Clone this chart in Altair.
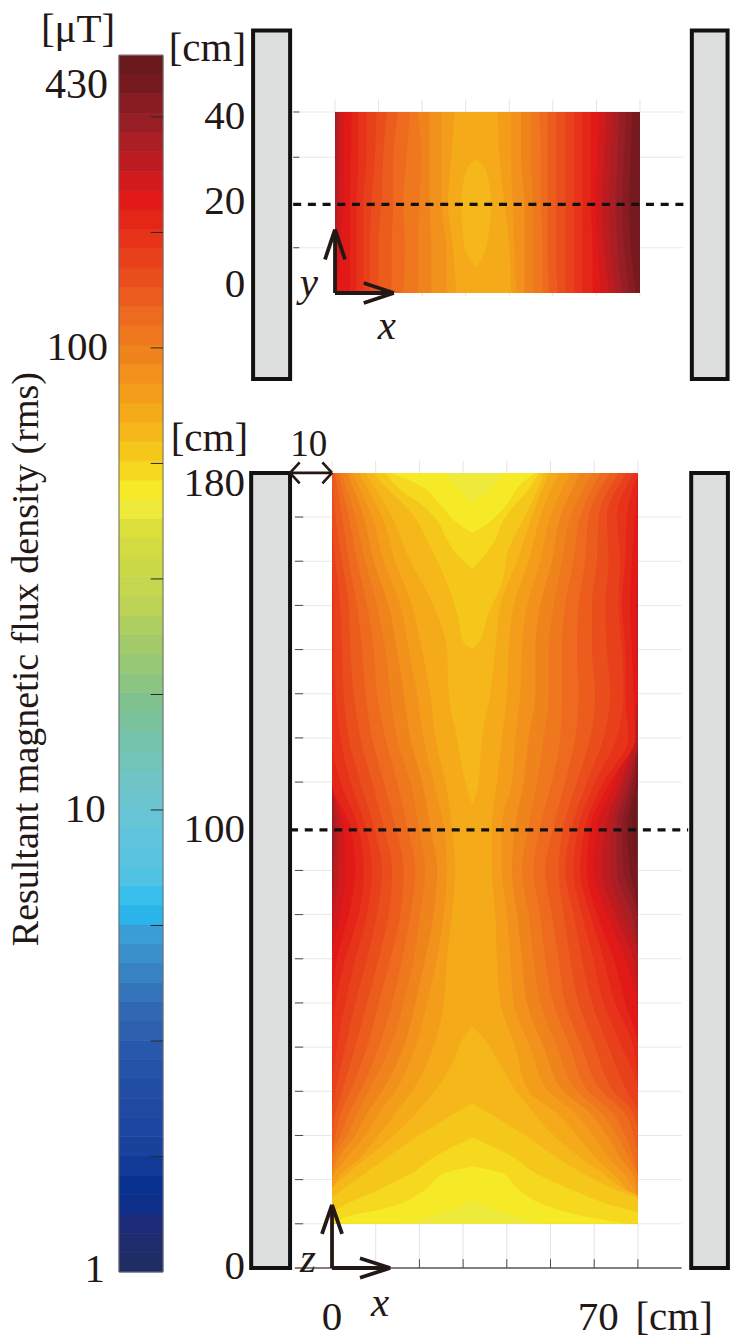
import altair as alt
import pandas as pd

FONT = "Liberation Serif"
INK = "#231815"

# colour bar: band edges in uT and one colour per band, bottom to top
band_edges = [1, 1.101, 1.212, 1.335, 1.470, 1.618, 1.782, 1.961, 2.160, 2.378, 2.618, 2.882, 3.174,
              3.494, 3.847, 4.236, 4.665, 5.136, 5.655, 6.226, 6.855, 7.547, 8.309, 9.149, 10.07,
              11.09, 12.21, 13.45, 14.80, 16.30, 17.95, 19.76, 21.76, 23.96, 26.38, 29.04, 31.98,
              35.21, 38.77, 42.68, 47.00, 51.74, 56.97, 62.72, 69.06, 76.03, 83.71, 92.18, 101.5,
              111.7, 123.0, 135.5, 149.1, 164.2, 180.8, 199.1, 219.2, 241.3, 265.7, 292.6, 322.1,
              354.7, 390.5, 430]
band_colors = ["#202c66", "#1f2c6e", "#1c2c7a", "#0e308a", "#083190", "#103a96", "#18429c", "#1c47a0",
               "#2049a2", "#224ea5", "#2553a8", "#2858ab", "#2c5fae", "#3068b3", "#3373b9", "#3682c2",
               "#3990cb", "#3a9dd6", "#2bb4ea", "#38bfec", "#50c2e4", "#5ac3e0", "#60c4de", "#66c4d6",
               "#6bc4ce", "#6fc4c6", "#72c4b8", "#74c3ab", "#7ac29d", "#80c28f", "#8cc582", "#97c876",
               "#a2ca6b", "#aece5f", "#bcd356", "#c4d74e", "#cbd947", "#d2dc42", "#dadf3c", "#eeea3c",
               "#f5ea25", "#f6d81f", "#f5c71b", "#f5b71a", "#f5ab19", "#f49d1a", "#f2911b", "#f0841c",
               "#ef771d", "#ed6a1e", "#eb5c1d", "#e94e1c", "#e8401b", "#e6331a", "#e42619", "#e11a18",
               "#d01a1c", "#bc1c20", "#aa1e24", "#981e25", "#881c22", "#771a1f", "#6a191d"]
bar_ticks = [1.778, 3.162, 5.623, 10, 17.78, 31.62, 56.23, 100, 177.8, 316.2]
FIRST_BAND = 39  # contour level 0 is this colour band

# contour edges, in 1/918 of the 70 cm span
E = 918
z_rows = [180, 170, 160, 150, 140, 130, 120, 110, 100, 90, 80, 70, 60, 50, 40, 35, 30, 25, 20, 15, 10]
front_levels = {
    5: ([80, 150, 190, 240, 270, 295, 310, 340, 360, 370, 360, 345, 335, 305, 240, 190, 140, 85, 15, 0, 0],
        [680, 625, 590, 545, 530, 525, 510, 495, 480, 480, 490, 495, 505, 550, 590, 675, 735, 790, 860, 905, E]),
    6: ([60, 120, 155, 205, 230, 255, 275, 305, 335, 345, 335, 315, 285, 250, 190, 140, 100, 45, 0, 0, 0],
        [715, 655, 625, 585, 570, 565, 550, 540, 510, 510, 525, 535, 545, 595, 650, 730, 785, 830, 890, E, E]),
    7: ([45, 95, 125, 170, 195, 215, 235, 270, 295, 315, 305, 280, 250, 215, 150, 105, 70, 20, 0, 0, 0],
        [745, 685, 660, 625, 610, 610, 590, 575, 550, 540, 555, 570, 585, 635, 695, 775, 825, 865, 910, E, E]),
    8: ([30, 70, 100, 135, 160, 175, 195, 235, 260, 280, 265, 245, 215, 175, 110, 75, 45, 8, 0, 0, 0],
        [780, 715, 690, 665, 650, 650, 635, 615, 590, 570, 590, 605, 625, 675, 735, 810, 855, 890, E, E, E]),
    9: ([18, 50, 75, 105, 125, 135, 160, 195, 225, 250, 235, 210, 180, 140, 85, 50, 25, 0, 0, 0, 0],
        [805, 745, 725, 700, 690, 690, 685, 660, 625, 605, 625, 640, 665, 715, 770, 845, 880, 905, E, E, E]),
    10: ([8, 30, 50, 75, 90, 100, 120, 155, 190, 215, 205, 175, 140, 105, 55, 25, 10, 0, 0, 0, 0],
         [835, 770, 760, 740, 735, 740, 730, 700, 665, 640, 660, 680, 700, 750, 810, 880, 905, E, E, E, E]),
    11: ([0, 10, 30, 50, 55, 65, 85, 120, 155, 180, 170, 140, 105, 70, 30, 10, 0, 0, 0, 0, 0],
         [860, 800, 795, 780, 780, 790, 775, 735, 695, 680, 695, 715, 740, 790, 845, 905, E, E, E, E, E]),
    12: ([0, 0, 10, 25, 30, 35, 50, 85, 125, 150, 135, 105, 70, 40, 10, 0, 0, 0, 0, 0, 0],
         [885, 825, 830, 820, 825, 835, 815, 765, 720, 700, 725, 750, 780, 830, 885, E, E, E, E, E, E]),
    13: ([0, 0, 0, 5, 5, 10, 25, 55, 100, 120, 105, 70, 40, 15, 0, 0, 0, 0, 0, 0, 0],
         [905, 855, 865, 860, 870, 875, 855, 790, 740, 725, 750, 785, 815, 870, E, E, E, E, E, E, E]),
    14: ([0, 0, 0, 0, 0, 0, 0, 25, 78, 95, 80, 40, 10, 0, 0, 0, 0, 0, 0, 0, 0],
         [E, 885, 880, 870, 880, 880, 890, 815, 760, 745, 775, 815, 850, 905, E, E, E, E, E, E, E]),
    15: ([0, 0, 0, 0, 0, 0, 0, 0, 55, 70, 50, 15, 0, 0, 0, 0, 0, 0, 0, 0, 0],
         [E, 910, 900, 895, 900, 905, 910, 835, 775, 765, 795, 845, 880, E, E, E, E, E, E, E, E]),
    16: ([0, 0, 0, 0, 0, 0, 0, 0, 35, 40, 25, 0, 0, 0, 0, 0, 0, 0, 0, 0, 0],
         [E, E, E, 912, 912, E, 885, 850, 795, 785, 825, 880, 915, E, E, E, E, E, E, E, E]),
    17: ([0, 0, 0, 0, 0, 0, 0, 0, 22, 20, 5, 0, 0, 0, 0, 0, 0, 0, 0, 0, 0],
         [E, E, E, E, E, E, 905, 868, 820, 810, 850, 905, E, E, E, E, E, E, E, E, E]),
    18: ([0, 0, 0, 0, 0, 0, 0, 0, 12, 8, 0, 0, 0, 0, 0, 0, 0, 0, 0, 0, 0],
         [E, E, E, E, E, E, E, 880, 840, 835, 875, E, E, E, E, E, E, E, E, E, E]),
    19: ([0, 0, 0, 0, 0, 0, 0, 0, 5, 2, 0, 0, 0, 0, 0, 0, 0, 0, 0, 0, 0],
         [E, E, E, E, E, E, E, 892, 855, 855, 900, E, E, E, E, E, E, E, E, E, E]),
    20: ([0] * 21, [E, E, E, E, E, E, E, 902, 870, 875, 915, E, E, E, E, E, E, E, E, E, E]),
    21: ([0] * 21, [E, E, E, E, E, E, E, 912, 885, 895, E, E, E, E, E, E, E, E, E, E, E]),
    22: ([0] * 21, [E, E, E, E, E, E, E, E, 900, 915, E, E, E, E, E, E, E, E, E, E, E]),
}
# the pale levels split in a top and a bottom patch: level, z, left, right
front_patches = [
    (4, [180, 170, 160, 150, 140, 130, 120, 110, 104.8],
     [100, 180, 235, 305, 345, 350, 375, 400, 420], [650, 600, 555, 505, 490, 475, 450, 440, 422]),
    (4, [54.6, 51.6, 47.9, 44.1, 40.3, 36.6, 32.8, 29, 25.3, 21.5, 17.7, 16.2, 10],
     [420, 390, 370, 345, 310, 270, 225, 170, 110, 50, 0, 0, 0],
     [422, 460, 490, 520, 550, 590, 630, 680, 740, 810, 880, E, E]),
    (3, [180, 177.7, 171.7, 162.6, 155, 148.3, 141.5, 140.3],
     [125, 150, 230, 300, 345, 375, 395, 420], [635, 625, 590, 530, 510, 470, 440, 422]),
    (3, [37.3, 32.8, 29, 25.3, 21.5, 17.7, 15.4, 10],
     [420, 320, 240, 170, 100, 30, 0, 0], [422, 520, 600, 670, 750, 850, E, E]),
    (2, [180, 176.2, 172.4, 168.7, 164.9, 161.1, 158.3],
     [160, 205, 275, 320, 345, 380, 420], [620, 590, 545, 510, 490, 455, 422]),
    (2, [29.5, 25.3, 21.5, 17.7, 13.9, 12.4, 10],
     [420, 310, 240, 140, 30, 0, 0], [422, 540, 610, 720, 850, E, E]),
    (1, [180, 177.7, 172.4, 168.7, 166.4],
     [175, 250, 330, 375, 420], [610, 570, 520, 470, 422]),
    (1, [23, 21.5, 17.7, 13.9, 11.2, 10],
     [420, 340, 280, 180, 30, 15], [422, 510, 560, 650, 790, 890]),
    (0, [180, 176, 173.6], [340, 385, 420], [510, 470, 422]),
    (0, [15.4, 12.4, 10], [420, 330, 200], [422, 520, 640]),
]

y_rows = [40, 30, 20, 10, 0]
plan_levels = {
    5: ([360, 350, 340, 355, 365], [490, 495, 510, 525, 530]),
    6: ([320, 320, 320, 335, 335], [530, 530, 535, 540, 545]),
    7: ([285, 285, 285, 290, 290], [560, 560, 570, 570, 570]),
    8: ([250, 260, 255, 250, 250], [590, 590, 595, 595, 595]),
    9: ([225, 215, 205, 210, 205], [615, 620, 620, 625, 625]),
    10: ([190, 175, 175, 170, 170], [640, 640, 640, 640, 645]),
    11: ([155, 145, 140, 130, 130], [665, 665, 665, 665, 670]),
    12: ([125, 120, 110, 105, 105], [695, 695, 695, 695, 695]),
    13: ([95, 95, 85, 85, 85], [720, 720, 720, 720, 720]),
    14: ([70, 70, 65, 65, 65], [745, 745, 745, 745, 745]),
    15: ([50, 48, 45, 45, 45], [770, 770, 770, 775, 775]),
    16: ([28, 25, 25, 15, 5], [795, 790, 785, 790, 800]),
    17: ([15, 12, 10, 5, 0], [815, 810, 805, 810, 825]),
    18: ([8, 5, 4, 0, 0], [835, 830, 825, 830, 845]),
    19: ([3, 0, 0, 0, 0], [855, 850, 845, 850, 865]),
    20: ([0, 0, 0, 0, 0], [875, 870, 865, 870, 885]),
    21: ([0, 0, 0, 0, 0], [895, 890, 885, 890, 905]),
    22: ([0, 0, 0, 0, 0], [E, E, E, E, E]),
}
plan_patches = [(4, [29.7, 27, 20, 10, 5.8], [422, 395, 380, 390, 425], [424, 455, 470, 455, 427])]

grid_cm = [0, 10, 20, 30, 40, 50, 60, 70]
front_grid_z = [10, 20, 30, 40, 50, 60, 70, 80, 90, 110, 120, 130, 140, 150, 160, 170]
plan_grid_y = [10, 30, 40]
walls_front = [(-18.5, -9.6), (82.2, 90.6)]
walls_plan = [(-18.8, -10.3), (81.9, 90.1)]


def field_layers(rows, levels, patches, xs, ys):
    low, high = min(rows), max(rows)
    parts = [(23, [low, high], [0, 0], [E, E])]
    for level in sorted(levels, reverse=True):
        parts.append((level, rows, levels[level][0], levels[level][1]))
    parts.extend(patches)
    out = []
    for level, zs, left, right in parts:
        df = pd.DataFrame({"z": zs, "xl": left, "xr": right})
        df["xl"] = df["xl"] / E * 70
        df["xr"] = df["xr"] / E * 70
        out.append(
            alt.Chart(df.sort_values("z"))
            .mark_area(interpolate="monotone", orient="horizontal", color=band_colors[FIRST_BAND + level])
            .encode(
                x=alt.X("xl:Q", scale=xs, axis=None),
                x2="xr:Q",
                y=alt.Y("z:Q", scale=ys, axis=None),
            )
        )
    return out


def segs(rows, xs, ys, color=INK, width=1.0, dash=None, cap="butt"):
    df = pd.DataFrame(rows, columns=["x", "x2", "y", "y2"])
    opts = {"color": color, "strokeWidth": width, "strokeCap": cap}
    if dash:
        opts["strokeDash"] = dash
    return alt.Chart(df).mark_rule(**opts).encode(
        x=alt.X("x:Q", scale=xs, axis=None),
        x2="x2:Q",
        y=alt.Y("y:Q", scale=ys, axis=None),
        y2="y2:Q",
    )


def note(text, x, y, xs, ys, align="center", size=41, style="normal", angle=0):
    df = pd.DataFrame({"x": [x], "y": [y], "t": [text]})
    return alt.Chart(df).mark_text(
        font=FONT, fontSize=size, fontStyle=style, align=align, baseline="middle", color=INK, angle=angle
    ).encode(
        x=alt.X("x:Q", scale=xs, axis=None),
        y=alt.Y("y:Q", scale=ys, axis=None),
        text="t:N",
    )


def walls(spans, low, high, xs, ys):
    df = pd.DataFrame({"x": [s[0] for s in spans], "x2": [s[1] for s in spans], "y": [low] * 2, "y2": [high] * 2})
    return alt.Chart(df).mark_rect(fill="#dcdddd", stroke="#111111", strokeWidth=4).encode(
        x=alt.X("x:Q", scale=xs, axis=None),
        x2="x2:Q",
        y=alt.Y("y:Q", scale=ys, axis=None),
        y2="y2:Q",
    )


def axis_arrows(tip_x, tip_y, xs, ys, bx, by, sx, sy):
    # barb lengths along and across, in data units
    rows = [
        (0, tip_x, 0, 0),
        (tip_x - bx, tip_x, by, 0),
        (tip_x - bx, tip_x, -by, 0),
        (0, 0, 0, tip_y),
        (-sx, 0, tip_y - sy, tip_y),
        (sx, 0, tip_y - sy, tip_y),
    ]
    return segs(rows, xs, ys, color=INK, width=3.8)


# colour bar
bar_x = alt.Scale(domain=[0, 1])
bar_y = alt.Scale(type="log", domain=[1, 490])
bar_df = pd.DataFrame({"lo": band_edges[:-1], "hi": band_edges[1:], "c": band_colors})
bar = (
    alt.Chart(bar_df)
    .mark_rect(strokeWidth=0.7)
    .encode(
        x=alt.value(0),
        x2=alt.value(44),
        y=alt.Y("lo:Q", scale=bar_y, axis=None),
        y2="hi:Q",
        color=alt.Color("c:N", scale=None),
        stroke=alt.Stroke("c:N", scale=None),
    )
)
bar_frame = alt.Chart(pd.DataFrame({"lo": [1], "hi": [430]})).mark_rect(
    fill=None, stroke="#6f6f6f", strokeWidth=1
).encode(
    x=alt.value(0),
    x2=alt.value(44),
    y=alt.Y("lo:Q", scale=bar_y, axis=None),
    y2="hi:Q",
)
bar_tick_rows = [(0.72, 1, v, v) for v in bar_ticks]
colorbar = alt.layer(
    bar,
    bar_frame,
    segs(bar_tick_rows, bar_x, bar_y, color="#2a2a2a", width=1),
    note("430", -0.25, 370, bar_x, bar_y, align="right", size=42),
    note("100", -0.25, 100, bar_x, bar_y, align="right"),
    note("10", -0.3, 10, bar_x, bar_y, align="right"),
    note("1", -0.32, 1.01, bar_x, bar_y, align="right"),
    note("[μT]", -0.93, 488, bar_x, bar_y),
    note("Resultant magnetic flux density (rms)", -2.09, 21.2, bar_x, bar_y, size=38, angle=270),
).properties(width=44, height=1243)

# top view
plan_xs = alt.Scale(domain=[-19.28, 90.2], nice=False, zero=False)
plan_ys = alt.Scale(domain=[-19.23, 58.34], nice=False, zero=False)
plan_grid = [(-9, 80, v, v) for v in plan_grid_y]
plan_ticks = [(v, v, 40, 42.8) for v in grid_cm] + [(v, v, -0.8, 0) for v in grid_cm]
plan_dark = [(-9.6, -8.2, v, v) for v in plan_grid_y]
plan = alt.layer(
    segs(plan_grid, plan_xs, plan_ys, color="#e9e9e9", width=1),
    segs(plan_ticks, plan_xs, plan_ys, color="#e4e4e4", width=1),
    segs(plan_dark, plan_xs, plan_ys, color="#4a4a4a", width=1),
    *field_layers(y_rows, plan_levels, plan_patches, plan_xs, plan_ys),
    walls(walls_plan, -19, 58, plan_xs, plan_ys),
    segs([(-9.6, 81.5, 19.6, 19.6)], plan_xs, plan_ys, color="#111111", width=3.2, dash=[8, 6.7]),
    axis_arrows(13.5, 14, plan_xs, plan_ys, 6.9, 2.2, 2.3, 6.6),
    note("[cm]", -20.4, 53.9, plan_xs, plan_ys, align="right"),
    note("40", -20.6, 38.9, plan_xs, plan_ys, align="right"),
    note("20", -20.6, 20.1, plan_xs, plan_ys, align="right"),
    note("0", -20.6, 1.8, plan_xs, plan_ys, align="right"),
    note("y", -6, 2, plan_xs, plan_ys, style="italic"),
    note("x", 11.9, -7.5, plan_xs, plan_ys, style="italic"),
).properties(width=477, height=351)

# front view
front_xs = alt.Scale(domain=[-18.54, 90.62], nice=False, zero=False)
front_ys = alt.Scale(domain=[-0.23, 180.2], nice=False, zero=False)
front_grid = [(-8.5, 80, v, v) for v in front_grid_z]
front_ticks = [(v, v, 0, 10) for v in grid_cm] + [(v, v, 180, 182.7) for v in grid_cm]
dark_ticks = [(-8.5, -6.6, v, v) for v in front_grid_z] + [(v, v, 0, 2) for v in grid_cm[2:]]
front = alt.layer(
    segs(front_grid, front_xs, front_ys, color="#e9e9e9", width=1),
    segs(front_ticks, front_xs, front_ys, color="#e4e4e4", width=1),
    segs(dark_ticks, front_xs, front_ys, color="#4a4a4a", width=1),
    segs([(-8.5, 80, 0, 0)], front_xs, front_ys, color="#5a5555", width=1.5),
    *field_layers(z_rows, front_levels, front_patches, front_xs, front_ys),
    walls(walls_front, 0, 180, front_xs, front_ys),
    segs([(-9.6, 81.5, 99.2, 99.2)], front_xs, front_ys, color="#111111", width=3.2, dash=[8, 6.7]),
    axis_arrows(13.3, 14.3, front_xs, front_ys, 6.9, 2.2, 2.3, 6.6),
    segs(
        [(-9.6, 0, 180, 180), (-9.6, -7.4, 180, 182.4), (-9.6, -7.4, 180, 177.6),
         (-2.2, 0, 182.4, 180), (-2.2, 0, 177.6, 180)],
        front_xs, front_ys, color=INK, width=2.6,
    ),
    note("[cm]", -19.2, 187.7, front_xs, front_ys, align="right"),
    note("10", -5.3, 186.3, front_xs, front_ys, size=37),
    note("180", -19.9, 177.5, front_xs, front_ys, align="right"),
    note("100", -19.9, 99.2, front_xs, front_ys, align="right"),
    note("0", -19.9, 0.2, front_xs, front_ys, align="right"),
    note("z", -5.5, 1.8, front_xs, front_ys, style="italic"),
    note("x", 11, -8.2, front_xs, front_ys, style="italic"),
    note("0", 0, -11.3, front_xs, front_ys),
    note("70", 60.9, -11.3, front_xs, front_ys),
    note("[cm]", 78.3, -11.3, front_xs, front_ys),
).properties(width=477, height=797)

right = alt.vconcat(plan, front, spacing=92, bounds="flush")
chart = (
    alt.hconcat(colorbar, right, spacing=88, bounds="flush")
    .properties(padding=0, background="white")
    .configure_view(stroke=None)
)

chart.save("out.html", embed_options={"renderer": "svg", "actions": False})
